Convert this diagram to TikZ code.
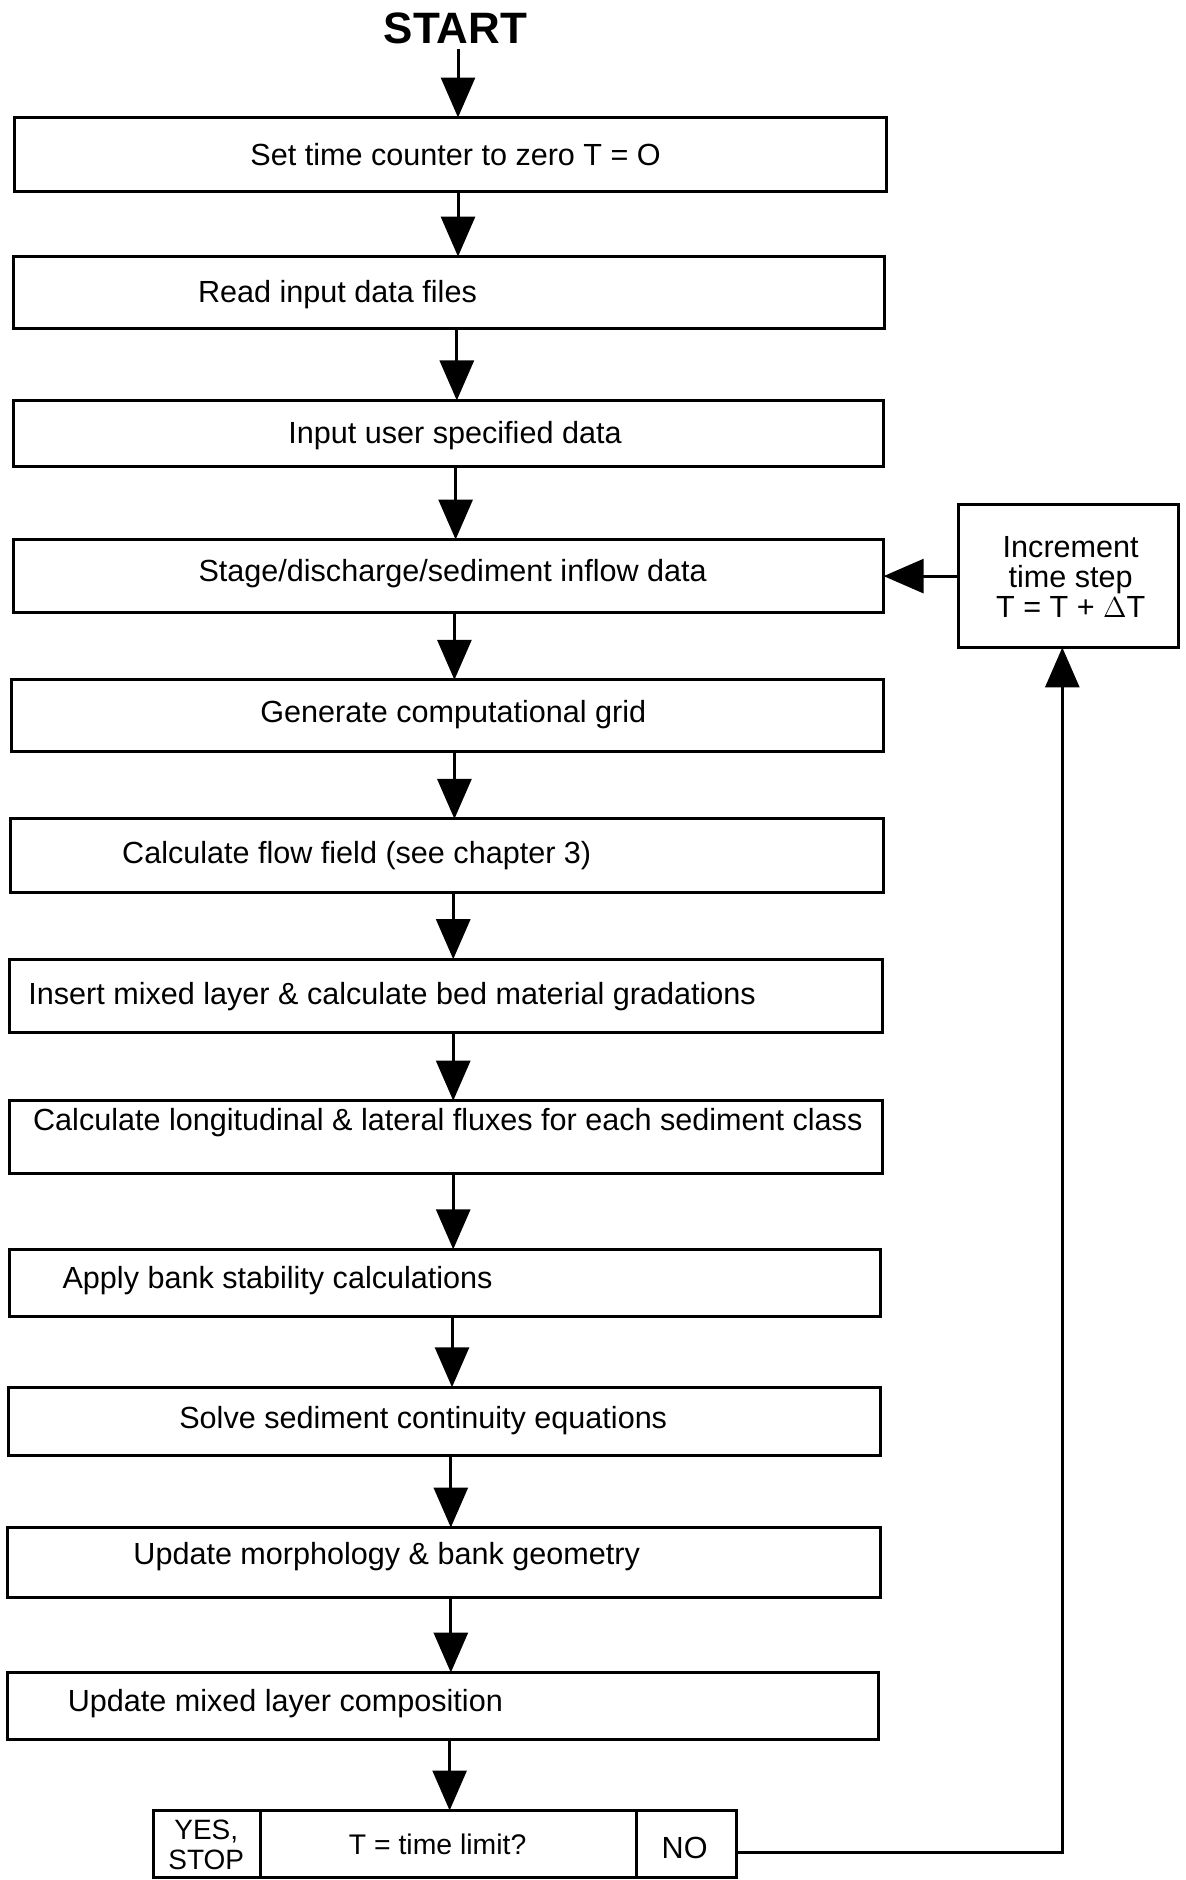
\documentclass[tikz,border=0pt]{standalone}
\usepackage{fontspec}
\setmainfont{Liberation Sans}
\usetikzlibrary{arrows.meta}
\newcommand\mybox[5]{\node[boxst, anchor=north west, minimum width={(#4-#2)*0.6pt}, minimum height={(#5-#3)*0.6pt}] (#1) at (#2,#3) {};}
\begin{document}
\begin{tikzpicture}[x=0.6pt,y=-0.6pt,
  boxst/.style={draw, line width=1.5pt, inner sep=0pt, outer sep=0pt},
  txt/.style={font=\fontsize{15.3}{18}\selectfont, inner sep=0pt},
  arr/.style={line width=1.5pt, -{Triangle[length=20pt,width=17pt]}}]
\useasboundingbox (0,0) rectangle (989,1568);
% boxes
\mybox{b1}{12}{98}{739}{160}
\mybox{b2}{11}{214}{738}{274}
\mybox{b3}{11}{334}{737}{389}
\mybox{b4}{11}{450}{737}{511}
\mybox{b5}{10}{567}{737}{627}
\mybox{b6}{9}{683}{737}{744}
\mybox{b7}{8}{800}{736}{861}
\mybox{b8}{8}{918}{736}{979}
\mybox{b9}{8}{1042}{734}{1098}
\mybox{b10}{7}{1157}{734}{1214}
\mybox{b11}{6}{1274}{734}{1332}
\mybox{b12}{6}{1395}{733}{1451}
\mybox{dec}{128}{1510}{614}{1566}
\mybox{inc}{799}{421}{983}{540}
% texts
\node[font=\fontsize{22}{26}\bfseries\selectfont, inner sep=2pt] (start) at (380,24) {START};
\node[txt] (t1) at (380,129) {Set time counter to zero T = O};
\node[txt] (t2) at (281.5,246) {Read input data files};
\node[txt] (t3) at (379.5,363) {Input user specified data};
\node[txt] (t4) at (377.5,478) {Stage/discharge/sediment inflow data};
\node[txt] (t5) at (378,596) {Generate computational grid};
\node[txt] (t6) at (297.5,714) {Calculate flow field (see chapter 3)};
\node[txt] (t7) at (327,831) {Insert mixed layer \& calculate bed material gradations};
\node[txt] (t8) at (373.5,936) {Calculate longitudinal \& lateral fluxes for each sediment class};
\node[txt] (t9) at (231.5,1068) {Apply bank stability calculations};
\node[txt] (t10) at (353,1185) {Solve sediment continuity equations};
\node[txt] (t11) at (322.5,1298) {Update morphology \& bank geometry};
\node[txt] (t12) at (238,1421) {Update mixed layer composition};
\node[txt, align=center, font=\fontsize{15.3}{15}\selectfont] (tinc) at (893,481) {Increment\\time step\\T = T + $\Delta$T};
\node[txt, align=center, font=\fontsize{14}{15}\selectfont] (tyes) at (172,1539) {YES,\\STOP};
\node[txt, font=\fontsize{14.2}{17}\selectfont] (tdec) at (365,1538) {T = time limit?};
\node[txt] (tno) at (571,1541) {NO};
% dividers in decision box
\coordinate (d1) at (217,1510);
\coordinate (d2) at (531,1510);
\draw[line width=1.5pt] (d1) -- (d1 |- dec.south);
\draw[line width=1.5pt] (d2) -- (d2 |- dec.south);
% arrow x positions
\coordinate (a0) at (382,0);
\coordinate (a1) at (382,0);
\coordinate (a2) at (381,0);
\coordinate (a3) at (380,0);
\coordinate (a4) at (379,0);
\coordinate (a5) at (379,0);
\coordinate (a6) at (378,0);
\coordinate (a7) at (378,0);
\coordinate (a8) at (378,0);
\coordinate (a9) at (377,0);
\coordinate (a10) at (376,0);
\coordinate (a11) at (376,0);
\coordinate (a12) at (375,0);
\draw[arr] (start.south -| a0) -- (b1.north -| a0);
\draw[arr] (b1.south -| a1) -- (b2.north -| a1);
\draw[arr] (b2.south -| a2) -- (b3.north -| a2);
\draw[arr] (b3.south -| a3) -- (b4.north -| a3);
\draw[arr] (b4.south -| a4) -- (b5.north -| a4);
\draw[arr] (b5.south -| a5) -- (b6.north -| a5);
\draw[arr] (b6.south -| a6) -- (b7.north -| a6);
\draw[arr] (b7.south -| a7) -- (b8.north -| a7);
\draw[arr] (b8.south -| a8) -- (b9.north -| a8);
\draw[arr] (b9.south -| a9) -- (b10.north -| a9);
\draw[arr] (b10.south -| a10) -- (b11.north -| a10);
\draw[arr] (b11.south -| a11) -- (b12.north -| a11);
\draw[arr] (b12.south -| a12) -- (dec.north -| a12);
% feedback
\draw[arr] (inc.west) -- (b4.east |- inc.west);
\coordinate (c1) at (886,1545);
\draw[arr] (dec.east |- c1) -- (c1) -- (inc.south -| c1);
\end{tikzpicture}
\end{document}
